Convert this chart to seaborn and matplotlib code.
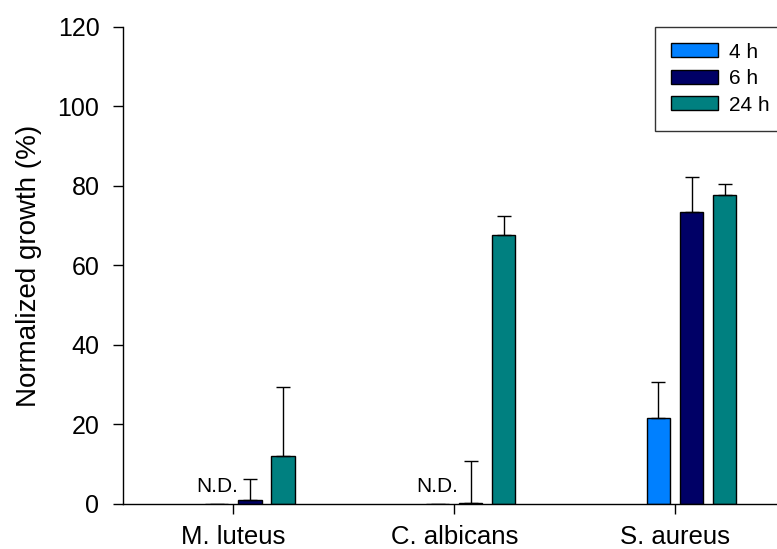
import matplotlib
matplotlib.use('Agg')
import matplotlib.pyplot as plt
import numpy as np
import pandas as pd
import seaborn as sns

# Data (N.D. = not detected)
categories = ['M. luteus', 'C. albicans', 'S. aureus']
times = ['4 h', '6 h', '24 h']
growth_4h = [np.nan, np.nan, 21.7]
growth_6h = [1.1, 0.3, 73.4]
growth_24h = [12.0, 67.6, 77.7]
err_4h = [np.nan, np.nan, 9.1]
err_6h = [5.2, 10.6, 8.9]
err_24h = [17.5, 4.9, 2.8]
nd_label = 'N.D.'

colors = {'4 h': '#0080ff', '6 h': '#000066', '24 h': '#008080'}

rows = []
for t, vals, errs in [('4 h', growth_4h, err_4h), ('6 h', growth_6h, err_6h),
                      ('24 h', growth_24h, err_24h)]:
  for c, v, e in zip(categories, vals, errs):
    rows.append({'organism': c, 'time': t, 'growth': v, 'err': e})
df = pd.DataFrame(rows)
df['bar'] = df['growth'].fillna(0)

sns.set_style('ticks')
plt.rcParams['font.family'] = ['Liberation Sans', 'DejaVu Sans']
plt.rcParams['text.color'] = 'black'
plt.rcParams['axes.labelcolor'] = 'black'
plt.rcParams['xtick.color'] = 'black'
plt.rcParams['ytick.color'] = 'black'

fig, ax = plt.subplots(figsize=(7.77, 5.49), dpi=100)
fig.subplots_adjust(left=0.1583, right=1.0, bottom=0.082, top=0.951)

sns.barplot(data=df, x='organism', y='bar', hue='time', order=categories,
            hue_order=times, palette=colors, width=0.45, gap=0.3,
            edgecolor='black', linewidth=1, errorbar=None, saturation=1,
            ax=ax)

# one-sided error bars on top of each bar
for t, cont in zip(times, ax.containers):
  sub = df[df['time'] == t].set_index('organism').loc[categories]
  xs = [p.get_x() + p.get_width() / 2 for p in cont.patches]
  ax.errorbar(xs, sub['bar'], yerr=[np.zeros(len(xs)), sub['err']],
              fmt='none', ecolor='black', elinewidth=1, capsize=5,
              capthick=1)
  # N.D. labels where nothing was detected
  for x, g in zip(xs, sub['growth']):
    if np.isnan(g):
      ax.text(x, 2, nd_label, ha='center', va='bottom', fontsize=15)

ax.set_ylim(0, 120)
ax.set_yticks([0, 20, 40, 60, 80, 100, 120])
ax.set_xticks([i - 0.075 for i in range(len(categories))], categories)
ax.set_xlim(-0.575, 2.387)
ax.set_xlabel('')
ax.set_ylabel('Normalized growth (%)', fontsize=20, labelpad=11)
ax.tick_params(axis='both', length=7, width=1, color='black',
               direction='out')
ax.tick_params(axis='y', pad=10, labelsize=18)
ax.tick_params(axis='x', pad=8, labelsize=18.5)
for s in ['top', 'right']:
  ax.spines[s].set_visible(False)
for s in ['left', 'bottom']:
  ax.spines[s].set_color('black')
  ax.spines[s].set_linewidth(1)

handles, labels = ax.get_legend_handles_labels()
leg = ax.legend(handles, labels, loc='upper left', bbox_to_anchor=(0.813, 1.0),
                borderaxespad=0, fontsize=15, frameon=True, fancybox=False,
                handlelength=2.26, handleheight=0.65, handletextpad=0.56,
                labelspacing=0.36, borderpad=0.76)
leg.get_frame().set_edgecolor('black')
leg.get_frame().set_linewidth(1)

fig.savefig('out.png', dpi=100)
